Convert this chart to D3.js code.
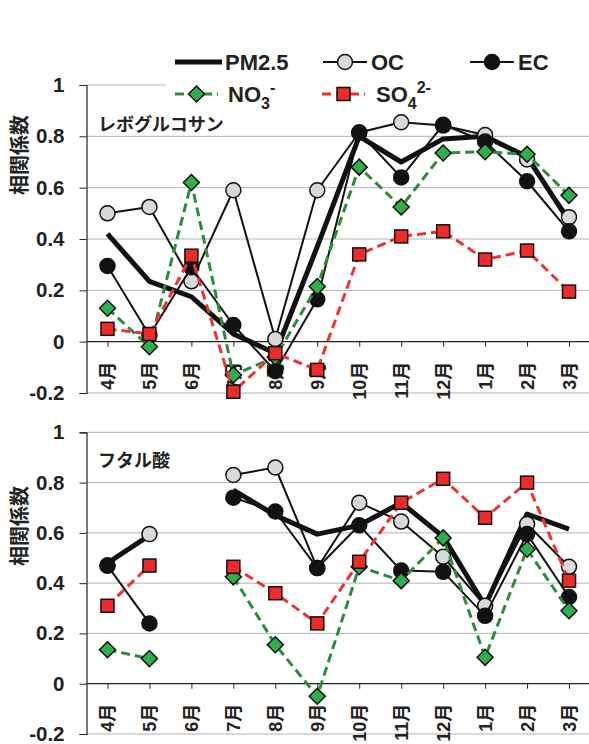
<!DOCTYPE html>
<html>
<head>
<meta charset="utf-8">
<script src="https://cdn.jsdelivr.net/npm/d3@7"></script>
<style>
  body { margin: 0; background: #fff; }
  text { font-family: "Liberation Sans", "Noto Sans CJK JP", sans-serif; font-weight: bold; fill: #222; }
</style>
</head>
<body>
<div id="chart"></div>
<script>
// months on the x axis
const months = ["4月", "5月", "6月", "7月", "8月", "9月", "10月", "11月", "12月", "1月", "2月", "3月"];
const yTicks = [1, 0.8, 0.6, 0.4, 0.2, 0, -0.2];

// レボグルコサン panel
const pm25Levo = [0.42, 0.235, 0.175, 0.03, -0.045, 0.37, 0.80, 0.70, 0.79, 0.80, 0.72, 0.47];
const ocLevo   = [0.50, 0.525, 0.235, 0.59, 0.01, 0.59, 0.815, 0.855, 0.842, 0.805, 0.71, 0.485];
const ecLevo   = [0.295, 0.025, 0.29, 0.065, -0.115, 0.165, 0.815, 0.64, 0.845, 0.78, 0.625, 0.43];
const no3Levo  = [0.13, -0.02, 0.62, -0.13, -0.06, 0.215, 0.68, 0.525, 0.735, 0.74, 0.73, 0.57];
const so4Levo  = [0.05, 0.03, 0.335, -0.195, -0.045, -0.11, 0.34, 0.41, 0.43, 0.32, 0.355, 0.195];

// フタル酸 panel (no data for 6月)
const pm25Phth = [0.48, 0.59, null, 0.77, 0.67, 0.595, 0.63, 0.72, 0.585, 0.31, 0.675, 0.615];
const ocPhth   = [0.47, 0.595, null, 0.83, 0.86, 0.46, 0.72, 0.645, 0.505, 0.31, 0.635, 0.465];
const ecPhth   = [0.47, 0.24, null, 0.74, 0.685, 0.46, 0.63, 0.45, 0.445, 0.27, 0.595, 0.345];
const no3Phth  = [0.135, 0.10, null, 0.425, 0.155, -0.05, 0.465, 0.41, 0.58, 0.105, 0.535, 0.29];
const so4Phth  = [0.31, 0.47, null, 0.465, 0.36, 0.24, 0.485, 0.72, 0.815, 0.66, 0.80, 0.41];

const width = 589, height = 744;
const svg = d3.select("#chart").append("svg")
  .attr("width", width)
  .attr("height", height);

const x = d3.scalePoint().domain(months).range([86.5, 590]).padding(0.5);
const left = 86.5, right = 590;

const styles = {
  pm25: {stroke: "#111", width: 5, dash: null, marker: null},
  oc:   {stroke: "#111", width: 2, dash: null, marker: "circle", fill: "#d9d9d9"},
  ec:   {stroke: "#111", width: 2, dash: null, marker: "circle", fill: "#111"},
  no3:  {stroke: "#2e8b3e", width: 3, dash: "9,5", marker: "diamond", fill: "#2db04b"},
  so4:  {stroke: "#ee3333", width: 3, dash: "9,5", marker: "square", fill: "#ee2a2a"}
};

function drawMarker(g, type, cx, cy, fill) {
  if (type === "circle") {
    g.append("circle").attr("cx", cx).attr("cy", cy).attr("r", 7.5)
      .attr("fill", fill).attr("stroke", "#111").attr("stroke-width", 1.5);
  } else if (type === "diamond") {
    const s = 8;
    g.append("path")
      .attr("d", `M${cx},${cy - s}L${cx + s},${cy}L${cx},${cy + s}L${cx - s},${cy}Z`)
      .attr("fill", fill).attr("stroke", "#111").attr("stroke-width", 1.5);
  } else if (type === "square") {
    const s = 6.5;
    g.append("rect").attr("x", cx - s).attr("y", cy - s).attr("width", 2 * s).attr("height", 2 * s)
      .attr("fill", fill).attr("stroke", "#111").attr("stroke-width", 1.5);
  }
}

function drawPanel(top, bottom, title, titleY, yTitleY, series) {
  const y = d3.scaleLinear().domain([-0.2, 1]).range([bottom, top]);
  const g = svg.append("g");

  // gridlines
  g.selectAll(".grid").data(yTicks.filter(d => d !== 0)).join("line")
    .attr("x1", left).attr("x2", right)
    .attr("y1", d => y(d)).attr("y2", d => y(d))
    .attr("stroke", "#b3b3b3").attr("stroke-width", 1);

  // y axis
  const yAxis = d3.axisLeft(y).tickValues(yTicks).tickSize(7).tickFormat(d => String(d));
  const ya = g.append("g").attr("transform", `translate(${left},0)`).call(yAxis);
  ya.select(".domain").attr("stroke", "#222").attr("stroke-width", 1.2);
  ya.selectAll(".tick line").attr("stroke", "#222");
  ya.selectAll(".tick text").attr("x", -22).attr("font-size", 20.5).attr("fill", "#222")
    .style("font-family", "'Liberation Sans', sans-serif").style("font-weight", "bold");

  // x axis on the zero line
  const xAxis = d3.axisBottom(x).tickSize(5).tickFormat("");
  const xa = g.append("g").attr("transform", `translate(0,${y(0)})`).call(xAxis);
  xa.select(".domain").attr("stroke", "#222").attr("stroke-width", 1.2).attr("d", `M${left},0H${right}`);
  xa.selectAll(".tick line").attr("stroke", "#222");

  g.selectAll(".xl").data(months).join("text")
    .attr("transform", d => `translate(${x(d)},${y(0) + 20}) rotate(-90)`)
    .attr("text-anchor", "end")
    .attr("dy", "0.36em")
    .attr("font-size", 18)
    .text(d => d);

  // y title
  g.append("text")
    .attr("transform", `translate(20,${yTitleY}) rotate(-90)`)
    .attr("text-anchor", "middle")
    .attr("dy", "0.36em")
    .attr("font-size", 20)
    .text("相関係数");

  // panel title
  g.append("text").attr("x", 98).attr("y", titleY).attr("font-size", 18).text(title);

  // series
  series.forEach(([key, values]) => {
    const st = styles[key];
    const line = d3.line()
      .defined(d => d != null)
      .x((d, i) => x(months[i]))
      .y(d => y(d));
    g.append("path").datum(values)
      .attr("d", line)
      .attr("fill", "none")
      .attr("stroke", st.stroke)
      .attr("stroke-width", st.width)
      .attr("stroke-dasharray", st.dash)
      .attr("stroke-linejoin", "round");
    if (st.marker) {
      const mg = g.append("g");
      values.forEach((v, i) => {
        if (v != null) drawMarker(mg, st.marker, x(months[i]), y(v), st.fill);
      });
    }
  });
}

drawPanel(85, 393, "レボグルコサン", 131, 155,
  [["pm25", pm25Levo], ["oc", ocLevo], ["ec", ecLevo], ["no3", no3Levo], ["so4", so4Levo]]);
drawPanel(432.3, 734, "フタル酸", 467, 526,
  [["pm25", pm25Phth], ["oc", ocPhth], ["ec", ecPhth], ["no3", no3Phth], ["so4", so4Phth]]);

// legend
const lg = svg.append("g");
lg.append("rect").attr("x", 166).attr("y", 42).attr("width", 423).attr("height", 70).attr("fill", "#fff");

function legendItem(key, x0, x1, yy) {
  const st = styles[key];
  lg.append("line").attr("x1", x0).attr("x2", x1).attr("y1", yy).attr("y2", yy)
    .attr("stroke", st.stroke).attr("stroke-width", st.width).attr("stroke-dasharray", st.dash);
  if (st.marker) drawMarker(lg, st.marker, (x0 + x1) / 2, yy, st.fill);
}
legendItem("pm25", 175, 222, 62);
legendItem("oc", 323, 367, 62);
legendItem("ec", 470, 514, 62);
legendItem("no3", 175, 218, 94);
legendItem("so4", 322, 365, 94);

const lt = (xx, yy) => lg.append("text").attr("x", xx).attr("y", yy).attr("dy", "0.36em").attr("font-size", 22);
lt(225, 62).text("PM2.5");
lt(371, 62).text("OC");
lt(518, 62).text("EC");

const no3 = lt(228, 94).text("NO");
no3.append("tspan").attr("font-size", 16).attr("dy", 7).text("3");
no3.append("tspan").attr("font-size", 16).attr("dy", -16).text("-");
const so4 = lt(376, 94).text("SO");
so4.append("tspan").attr("font-size", 16).attr("dy", 7).text("4");
so4.append("tspan").attr("font-size", 16).attr("dy", -16).text("2-");
</script>
</body>
</html>
